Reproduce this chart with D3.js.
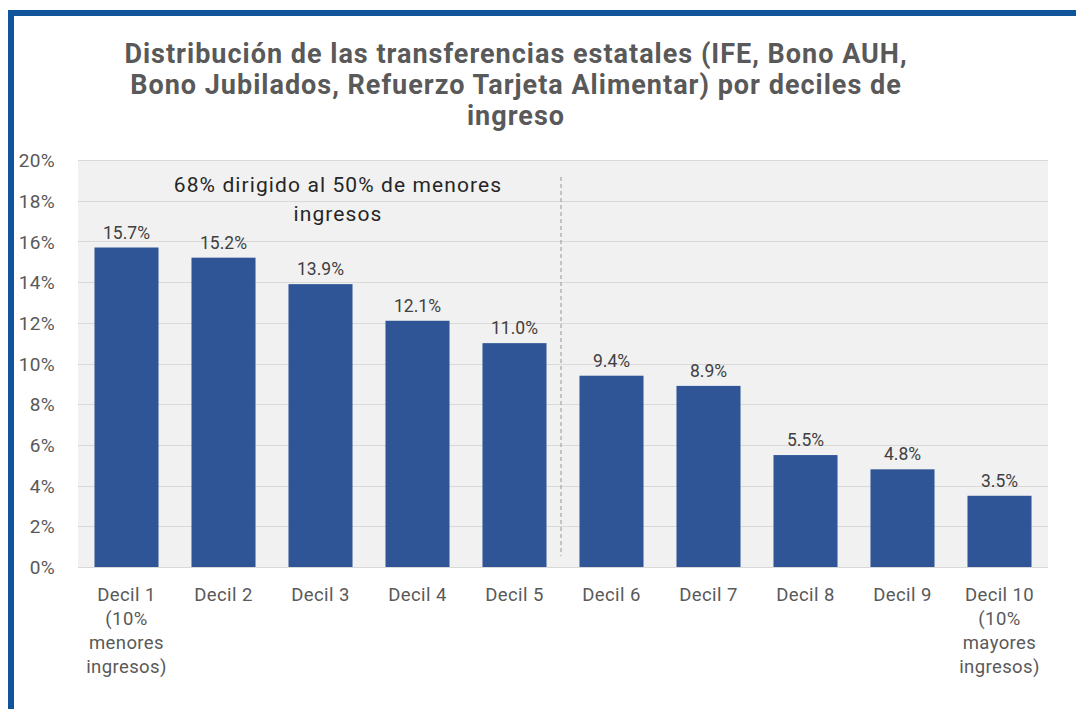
<!DOCTYPE html>
<html>
<head>
<meta charset="utf-8">
<script src="https://cdn.jsdelivr.net/npm/d3@7"></script>
<style>
  html, body { margin: 0; padding: 0; background: #ffffff; }
  svg { display: block; }
</style>
</head>
<body>
<svg id="chart" width="1076" height="709"></svg>
<script>
// ---- data ----
const categories = ["Decil 1", "Decil 2", "Decil 3", "Decil 4", "Decil 5",
                    "Decil 6", "Decil 7", "Decil 8", "Decil 9", "Decil 10"];
const categoryLabels = [
  ["Decil 1", "(10%", "menores", "ingresos)"],
  ["Decil 2"], ["Decil 3"], ["Decil 4"], ["Decil 5"],
  ["Decil 6"], ["Decil 7"], ["Decil 8"], ["Decil 9"],
  ["Decil 10", "(10%", "mayores", "ingresos)"]
];
const values = [15.7, 15.2, 13.9, 12.1, 11.0, 9.4, 8.9, 5.5, 4.8, 3.5];
const yTicks = [0, 2, 4, 6, 8, 10, 12, 14, 16, 18, 20];
const titleLines = [
  "Distribución de las transferencias estatales (IFE, Bono AUH,",
  "Bono Jubilados, Refuerzo Tarjeta Alimentar) por deciles de",
  "ingreso"
];
const annotationLines = ["68% dirigido al 50% de menores", "ingresos"];
const splitAfter = "Decil 5";

// ---- layout ----
const svg = d3.select("#chart");
const plot = { left: 78, right: 1048, top: 160, bottom: 567 };
const font = "Roboto, 'DejaVu Sans', sans-serif";

// border frame
svg.append("rect").attr("x", 8).attr("y", 10).attr("width", 1068).attr("height", 6).attr("fill", "#10559b");
svg.append("rect").attr("x", 8).attr("y", 10).attr("width", 6).attr("height", 699).attr("fill", "#10559b");

const x = d3.scaleBand().domain(categories).range([plot.left, plot.right])
  .paddingInner(0.34).paddingOuter(0.17);
const y = d3.scaleLinear().domain([0, 20]).range([plot.bottom, plot.top]);

// plot background
svg.append("rect").attr("x", plot.left).attr("y", plot.top)
  .attr("width", plot.right - plot.left).attr("height", plot.bottom - plot.top)
  .attr("fill", "#f1f1f1");

// gridlines
svg.append("g").selectAll("line").data(yTicks).join("line")
  .attr("x1", plot.left).attr("x2", plot.right)
  .attr("y1", d => Math.round(y(d)) + 0.5).attr("y2", d => Math.round(y(d)) + 0.5)
  .attr("stroke", "#d9d9d9").attr("stroke-width", 1);

// y axis labels
const yAxis = d3.axisLeft(y).tickValues(yTicks).tickFormat(d => d + "%").tickSize(0).tickPadding(0);
const gy = svg.append("g").attr("transform", `translate(55,0)`).call(yAxis);
gy.select(".domain").remove();
gy.selectAll("text").attr("font-family", font).attr("font-size", 19).attr("fill", "#595959")
  .attr("dy", "0.35em").attr("letter-spacing", 0.3);

// bars
svg.append("g").selectAll("rect").data(values).join("rect")
  .attr("x", (d, i) => x(categories[i]))
  .attr("y", d => y(d))
  .attr("width", x.bandwidth())
  .attr("height", d => y(0) - y(d))
  .attr("fill", "#2f5597");

// value labels
svg.append("g").selectAll("text").data(values).join("text")
  .attr("x", (d, i) => x(categories[i]) + x.bandwidth() / 2)
  .attr("y", d => y(d) - 9)
  .attr("text-anchor", "middle")
  .attr("font-family", font).attr("font-size", 17.5).attr("fill", "#404040")
  .text(d => d.toFixed(1) + "%");

// x labels
const xg = svg.append("g");
categoryLabels.forEach((lines, i) => {
  const cx = x(categories[i]) + x.bandwidth() / 2;
  const t = xg.append("text")
    .attr("x", cx).attr("y", 601)
    .attr("text-anchor", "middle")
    .attr("font-family", font).attr("font-size", 18.5).attr("fill", "#595959")
    .attr("letter-spacing", 0.4);
  lines.forEach((s, j) => {
    t.append("tspan").attr("x", cx).attr("y", 601 + j * 24).text(s);
  });
});

// dashed divider
const i5 = categories.indexOf(splitAfter);
const divX = (x(categories[i5]) + x.bandwidth() + x(categories[i5 + 1])) / 2 - 2;
svg.append("line").attr("x1", divX).attr("x2", divX).attr("y1", 177).attr("y2", 556)
  .attr("stroke", "#a6a6a6").attr("stroke-width", 1.2).attr("stroke-dasharray", "4,3");

// annotation
annotationLines.forEach((s, j) => {
  svg.append("text").attr("x", 338).attr("y", 192 + j * 29)
    .attr("text-anchor", "middle").attr("font-family", font).attr("font-size", 21)
    .attr("letter-spacing", 1.1)
    .attr("fill", "#262626").text(s);
});

// title
titleLines.forEach((s, j) => {
  svg.append("text").attr("x", 516).attr("y", 63 + j * 31)
    .attr("text-anchor", "middle").attr("font-family", font).attr("font-size", 27)
    .attr("letter-spacing", 1)
    .attr("font-weight", "bold").attr("fill", "#595959").text(s);
});
</script>
</body>
</html>
